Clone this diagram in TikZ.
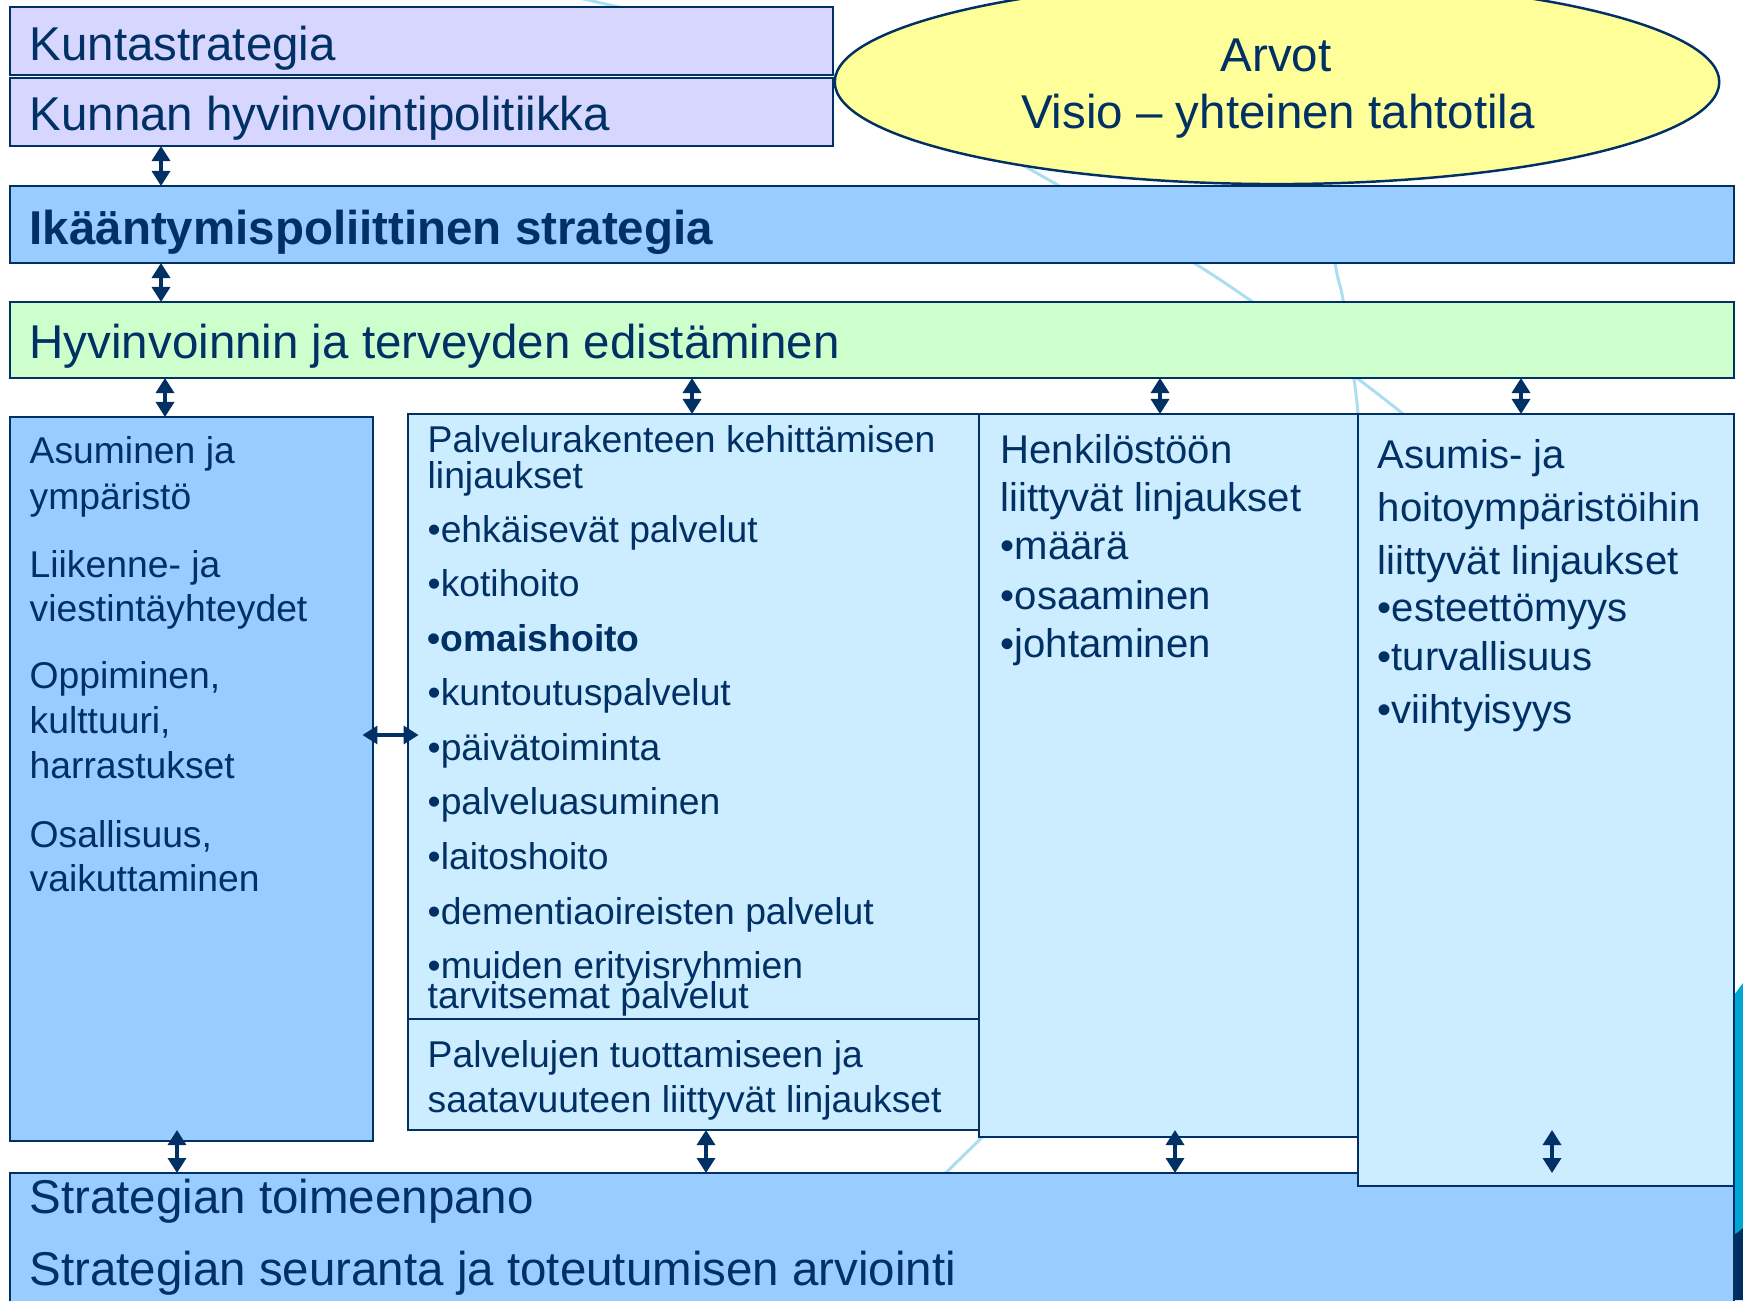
\documentclass[tikz,border=0pt]{standalone}
\usepackage{fontspec}
\setmainfont{Liberation Sans}
\usetikzlibrary{arrows.meta,shapes.geometric,fit}
\definecolor{navy}{RGB}{0,48,100}
\definecolor{lav}{RGB}{214,214,255}
\definecolor{yel}{RGB}{255,255,153}
\definecolor{midblue}{RGB}{153,204,255}
\definecolor{lgreen}{RGB}{204,255,204}
\definecolor{pale}{RGB}{204,236,255}
\definecolor{deco}{RGB}{170,222,240}
\definecolor{cyanedge}{RGB}{0,166,214}
\definecolor{navyedge}{RGB}{0,45,98}
\newcommand\mybox[6]{\node[fit={(#2,#3) (#4,#5)}, #6] (#1) {};}
\tikzset{
  box/.style={draw=navy, line width=0.7pt, inner sep=0pt, outer sep=0pt},
  dar/.style={{Triangle[length=1.5mm,width=1.8mm]}-{Triangle[length=1.5mm,width=1.8mm]}, line width=0.95pt, draw=navy},
  tx/.style={anchor=base west, inner sep=0pt, text=navy},
  tc/.style={anchor=base, inner sep=0pt, text=navy},
  big/.style={font=\fontsize{13.5}{16}\selectfont},
  bigb/.style={font=\fontsize{13.5}{16}\selectfont\bfseries},
  sm/.style={font=\fontsize{10.6}{12.5}\selectfont},
  smb/.style={font=\fontsize{10.6}{12.5}\selectfont\bfseries},
  md/.style={font=\fontsize{11.4}{13.5}\selectfont},
  decoline/.style={draw=deco, line width=0.85pt}
}
\begin{document}
\begin{tikzpicture}[x=0.01cm,y=-0.01cm]
\useasboundingbox (0,0) rectangle (1743,1300);
\clip (0,0) rectangle (1743,1300);
\fill[white] (0,0) rectangle (1743,1300);
% decorative background lines
\draw[decoline] plot[smooth, tension=0.6] coordinates {(540,-9) (588,0) (700,28) (820,69) (950,126) (1056,184) (1194,263) (1300,336) (1402,413) (1480,480)};
\draw[decoline] plot[smooth, tension=0.6] coordinates {(1318,150) (1335,263) (1343,300) (1354,379) (1358,414) (1360,450)};
\draw[decoline] (1010,1110) -- (920,1198);
\fill[cyanedge] (1734,995) -- (1743,983) -- (1743,1228) -- (1734,1235) -- cycle;
\fill[navyedge] (1734,1235) -- (1743,1228) -- (1743,1300) -- (1734,1300) -- cycle;
% boxes
\mybox{kunta}{10}{7}{833}{75}{box, fill=lav}
\mybox{kunnan}{10}{78}{833}{146}{box, fill=lav}
\node[ellipse, draw=navy, line width=0.7pt, fill=yel, minimum width=8.84cm, minimum height=2.04cm, inner sep=0pt] (arvot) at (1277,82) {};
\mybox{ika}{10}{186}{1734}{263}{box, fill=midblue}
\mybox{hyv}{10}{302}{1734}{378}{box, fill=lgreen}
\mybox{bot}{10}{1173}{1734}{1330}{box, fill=midblue}
\mybox{asum}{10}{417}{373}{1141}{box, fill=midblue}
\mybox{palv}{408}{414}{979}{1019}{box, fill=pale}
\mybox{palvb}{408}{1019}{979}{1130}{box, fill=pale}
\mybox{henk}{979}{414}{1358}{1137}{box, fill=pale}
\mybox{asumis}{1358}{414}{1734}{1186}{box, fill=pale}
% arrow positions
\coordinate (c1) at (161,0);
\coordinate (c3) at (165,0);
\coordinate (c4) at (692,0);
\coordinate (c5) at (1160,0);
\coordinate (c6) at (1521,0);
\coordinate (c7) at (0,735);
\coordinate (c8) at (177,0);
\coordinate (c9) at (706,0);
\coordinate (c10) at (1175,0);
\coordinate (c11) at (1552,0);
\draw[dar] (c1 |- kunnan.south) -- (c1 |- ika.north);
\draw[dar] (c1 |- ika.south) -- (c1 |- hyv.north);
\draw[dar] (c3 |- hyv.south) -- (c3 |- asum.north);
\draw[dar] (c4 |- hyv.south) -- (c4 |- palv.north);
\draw[dar] (c5 |- hyv.south) -- (c5 |- henk.north);
\draw[dar] (c6 |- hyv.south) -- (c6 |- asumis.north);
\draw[dar, shorten <=-3pt, shorten >=-3pt] (asum.east |- c7) -- (palv.west |- c7);
\draw[dar] (c8 |- palvb.south) -- (c8 |- bot.north);
\draw[dar] (c9 |- palvb.south) -- (c9 |- bot.north);
\draw[dar] (c10 |- palvb.south) -- (c10 |- bot.north);
\draw[dar] (c11 |- palvb.south) -- (c11 |- bot.north);
% texts
\node[tx, big] (t1) at (29,61) {Kuntastrategia};
\node[tx, big] (t2) at (29,130) {Kunnan hyvinvointipolitiikka};
\node[tc, big] (t3) at (1276,72) {Arvot};
\node[tc, big] (t4) at (1278,129) {Visio – yhteinen tahtotila};
\node[tx, bigb] (t5) at (29,245) {Ikääntymispoliittinen strategia};
\node[tx, big] (t6) at (29,358) {Hyvinvoinnin ja terveyden edistäminen};
% left column
\node[tx, sm] (a1) at (29,463) {Asuminen ja};
\node[tx, sm] (a2) at (29,509) {ympäristö};
\node[tx, sm] (a3) at (29,577) {Liikenne- ja};
\node[tx, sm] (a4) at (29,621) {viestintäyhteydet};
\node[tx, sm] (a5) at (29,688) {Oppiminen,};
\node[tx, sm] (a6) at (29,733) {kulttuuri,};
\node[tx, sm] (a7) at (29,778) {harrastukset};
\node[tx, sm] (a8) at (29,847) {Osallisuus,};
\node[tx, sm] (a9) at (29,891) {vaikuttaminen};
% service column
\node[tx, sm] (p1) at (427,452) {Palvelurakenteen kehittämisen};
\node[tx, sm] (p2) at (427,488) {linjaukset};
\node[tx, sm] (p3) at (427,542) {•ehkäisevät palvelut};
\node[tx, sm] (p4) at (427,596) {•kotihoito};
\node[tx, smb] (p5) at (427,651) {•omaishoito};
\node[tx, sm] (p6) at (427,705) {•kuntoutuspalvelut};
\node[tx, sm] (p7) at (427,760) {•päivätoiminta};
\node[tx, sm] (p8) at (427,814) {•palveluasuminen};
\node[tx, sm] (p9) at (427,869) {•laitoshoito};
\node[tx, sm] (p10) at (427,924) {•dementiaoireisten palvelut};
\node[tx, sm] (p11) at (427,978) {•muiden erityisryhmien};
\node[tx, sm] (p12) at (427,1008) {tarvitsemat palvelut};
\node[tx, sm] (q1) at (427,1067) {Palvelujen tuottamiseen ja};
\node[tx, sm] (q2) at (427,1112) {saatavuuteen liittyvät linjaukset};
% personnel column
\node[tx, md] (h1) at (1000,463) {Henkilöstöön};
\node[tx, md] (h2) at (1000,511) {liittyvät linjaukset};
\node[tx, md] (h3) at (1000,559) {•määrä};
\node[tx, md] (h4) at (1000,609) {•osaaminen};
\node[tx, md] (h5) at (1000,657) {•johtaminen};
% housing column
\node[tx, md] (r1) at (1377,468) {Asumis- ja};
\node[tx, md] (r2) at (1377,521) {hoitoympäristöihin};
\node[tx, md] (r3) at (1377,574) {liittyvät linjaukset};
\node[tx, md] (r4) at (1377,621) {•esteettömyys};
\node[tx, md] (r5) at (1377,670) {•turvallisuus};
\node[tx, md] (r6) at (1377,723) {•viihtyisyys};
% bottom
\node[tx, big] (b1) at (29,1213) {Strategian toimeenpano};
\node[tx, big] (b2) at (29,1285) {Strategian seuranta ja toteutumisen arviointi};
\end{tikzpicture}
\end{document}
